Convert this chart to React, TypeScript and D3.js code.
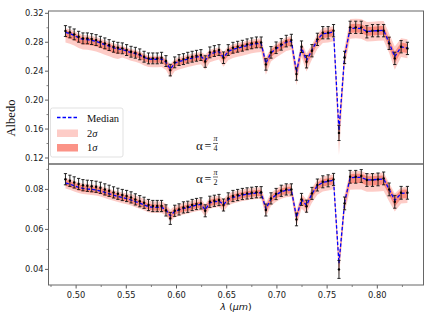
import React from 'react';
import * as d3 from 'd3';

// wavelength grid (um)
const wavelength = [
  0.4894, 0.4938, 0.4981, 0.5025, 0.5068, 0.5112, 0.5155, 0.5199, 0.5242, 0.5286,
  0.5329, 0.5373, 0.5416, 0.5460, 0.5503, 0.5547, 0.5590, 0.5634, 0.5677, 0.5721,
  0.5764, 0.5808, 0.5851, 0.5895, 0.5938, 0.5982, 0.6025, 0.6069, 0.6112, 0.6156,
  0.6199, 0.6243, 0.6286, 0.6332, 0.6377, 0.6423, 0.6468, 0.6515, 0.6562, 0.6609,
  0.6656, 0.6703, 0.6749, 0.6796, 0.6843, 0.6890, 0.6941, 0.6992, 0.7043, 0.7093,
  0.7144, 0.7195, 0.7245, 0.7295, 0.7349, 0.7403, 0.7457, 0.7510, 0.7564, 0.7618,
  0.7674, 0.7729, 0.7785, 0.7840, 0.7896, 0.7952, 0.8007, 0.8063, 0.8118, 0.8174,
  0.8237, 0.8300,
];

// alpha = pi/4 panel
const topObs = [
  0.2955, 0.2937, 0.2909, 0.2876, 0.2854, 0.2854, 0.2844, 0.2830, 0.2807, 0.2785,
  0.2761, 0.2738, 0.2724, 0.2716, 0.2692, 0.2669, 0.2655, 0.2633, 0.2600, 0.2577,
  0.2577, 0.2577, 0.2586, 0.2540, 0.2415, 0.2522, 0.2554, 0.2567, 0.2586, 0.2600,
  0.2613, 0.2623, 0.2533, 0.2660, 0.2678, 0.2692, 0.2586, 0.2692, 0.2724, 0.2738,
  0.2752, 0.2771, 0.2785, 0.2798, 0.2798, 0.2494, 0.2660, 0.2724, 0.2771, 0.2816,
  0.2830, 0.2360, 0.2738, 0.2530, 0.2683, 0.2840, 0.2932, 0.2932, 0.2960, 0.1547,
  0.2590, 0.3006, 0.3006, 0.3006, 0.2945, 0.2960, 0.2960, 0.2960, 0.2785, 0.2577,
  0.2738, 0.2715,
];
const topErr = [
  0.0075, 0.0075, 0.0075, 0.0075, 0.0075, 0.0075, 0.0075, 0.0075, 0.0075, 0.0075,
  0.0075, 0.0075, 0.0075, 0.0075, 0.0075, 0.0075, 0.0075, 0.0075, 0.0075, 0.0075,
  0.0075, 0.0075, 0.0075, 0.0075, 0.0080, 0.0075, 0.0075, 0.0075, 0.0075, 0.0075,
  0.0075, 0.0075, 0.0080, 0.0075, 0.0075, 0.0075, 0.0080, 0.0075, 0.0075, 0.0075,
  0.0075, 0.0075, 0.0075, 0.0075, 0.0075, 0.0080, 0.0080, 0.0080, 0.0080, 0.0080,
  0.0080, 0.0085, 0.0080, 0.0085, 0.0085, 0.0085, 0.0085, 0.0085, 0.0085, 0.0105,
  0.0085, 0.0085, 0.0085, 0.0085, 0.0085, 0.0085, 0.0085, 0.0085, 0.0085, 0.0085,
  0.0085, 0.0085,
];
const topMedian = [
  0.2935, 0.2920, 0.2895, 0.2862, 0.2840, 0.2836, 0.2826, 0.2812, 0.2790, 0.2768,
  0.2745, 0.2722, 0.2708, 0.2700, 0.2678, 0.2656, 0.2642, 0.2621, 0.2590, 0.2567,
  0.2565, 0.2565, 0.2568, 0.2525, 0.2430, 0.2510, 0.2535, 0.2550, 0.2568, 0.2582,
  0.2595, 0.2605, 0.2550, 0.2635, 0.2655, 0.2670, 0.2590, 0.2672, 0.2702, 0.2718,
  0.2735, 0.2752, 0.2768, 0.2780, 0.2785, 0.2510, 0.2655, 0.2710, 0.2755, 0.2800,
  0.2815, 0.2385, 0.2725, 0.2545, 0.2690, 0.2835, 0.2920, 0.2925, 0.2945, 0.1580,
  0.2610, 0.2990, 0.2995, 0.2990, 0.2950, 0.2955, 0.2960, 0.2965, 0.2790, 0.2600,
  0.2735, 0.2720,
];
// band extents below / above the median
const top2Lo = [
  0.014, 0.014, 0.014, 0.014, 0.014, 0.014, 0.014, 0.014, 0.014, 0.014,
  0.014, 0.014, 0.014, 0.011, 0.011, 0.011, 0.011, 0.011, 0.011, 0.011,
  0.011, 0.011, 0.011, 0.011, 0.012, 0.011, 0.011, 0.011, 0.011, 0.011,
  0.011, 0.011, 0.013, 0.011, 0.011, 0.011, 0.013, 0.012, 0.012, 0.012,
  0.012, 0.012, 0.012, 0.012, 0.012, 0.016, 0.012, 0.012, 0.012, 0.012,
  0.012, 0.018, 0.013, 0.015, 0.013, 0.013, 0.013, 0.013, 0.013, 0.034,
  0.016, 0.014, 0.014, 0.014, 0.014, 0.014, 0.014, 0.014, 0.014, 0.018,
  0.014, 0.014,
];
const top2Hi = [
  0.006, 0.006, 0.006, 0.006, 0.006, 0.006, 0.006, 0.006, 0.006, 0.006,
  0.006, 0.006, 0.006, 0.005, 0.005, 0.005, 0.005, 0.005, 0.005, 0.005,
  0.005, 0.005, 0.005, 0.005, 0.007, 0.006, 0.006, 0.006, 0.006, 0.006,
  0.006, 0.006, 0.008, 0.006, 0.006, 0.006, 0.008, 0.007, 0.007, 0.007,
  0.007, 0.007, 0.007, 0.007, 0.007, 0.008, 0.007, 0.007, 0.007, 0.007,
  0.007, 0.010, 0.008, 0.010, 0.008, 0.008, 0.008, 0.008, 0.008, 0.012,
  0.012, 0.013, 0.013, 0.013, 0.013, 0.013, 0.013, 0.013, 0.013, 0.014,
  0.012, 0.012,
];
const top1Lo = [
  0.007, 0.007, 0.007, 0.007, 0.007, 0.007, 0.007, 0.007, 0.007, 0.007,
  0.007, 0.007, 0.007, 0.005, 0.005, 0.005, 0.005, 0.005, 0.005, 0.005,
  0.005, 0.005, 0.005, 0.005, 0.006, 0.005, 0.005, 0.005, 0.005, 0.005,
  0.005, 0.005, 0.006, 0.005, 0.005, 0.005, 0.006, 0.006, 0.006, 0.006,
  0.006, 0.006, 0.006, 0.006, 0.006, 0.008, 0.006, 0.006, 0.006, 0.006,
  0.006, 0.009, 0.006, 0.007, 0.006, 0.006, 0.006, 0.006, 0.006, 0.016,
  0.008, 0.006, 0.006, 0.006, 0.006, 0.006, 0.006, 0.006, 0.006, 0.009,
  0.007, 0.007,
];
const top1Hi = [
  0.003, 0.003, 0.003, 0.003, 0.003, 0.003, 0.003, 0.003, 0.003, 0.003,
  0.003, 0.003, 0.003, 0.003, 0.003, 0.003, 0.003, 0.003, 0.003, 0.003,
  0.003, 0.003, 0.003, 0.003, 0.004, 0.003, 0.003, 0.003, 0.003, 0.003,
  0.003, 0.003, 0.004, 0.003, 0.003, 0.003, 0.004, 0.004, 0.004, 0.004,
  0.004, 0.004, 0.004, 0.004, 0.004, 0.004, 0.004, 0.004, 0.004, 0.004,
  0.004, 0.005, 0.004, 0.005, 0.004, 0.004, 0.004, 0.004, 0.004, 0.006,
  0.006, 0.006, 0.006, 0.006, 0.006, 0.006, 0.006, 0.006, 0.006, 0.007,
  0.006, 0.006,
];

// alpha = pi/2 panel
const botObs = [
  0.0851, 0.0843, 0.0835, 0.0827, 0.0821, 0.0818, 0.0816, 0.0813, 0.0808, 0.0800,
  0.0793, 0.0785, 0.0778, 0.0772, 0.0767, 0.0760, 0.0750, 0.0741, 0.0733, 0.0722,
  0.0717, 0.0717, 0.0717, 0.0695, 0.0655, 0.0693, 0.0700, 0.0710, 0.0713, 0.0722,
  0.0727, 0.0730, 0.0693, 0.0738, 0.0743, 0.0747, 0.0722, 0.0755, 0.0767, 0.0772,
  0.0777, 0.0780, 0.0783, 0.0786, 0.0786, 0.0697, 0.0755, 0.0777, 0.0793, 0.0800,
  0.0800, 0.0650, 0.0750, 0.0716, 0.0780, 0.0822, 0.0838, 0.0843, 0.0850, 0.0400,
  0.0730, 0.0863, 0.0863, 0.0867, 0.0847, 0.0847, 0.0850, 0.0855, 0.0800, 0.0738,
  0.0783, 0.0783,
];
const botErr = [
  0.0028, 0.0028, 0.0028, 0.0028, 0.0028, 0.0028, 0.0028, 0.0028, 0.0028, 0.0028,
  0.0028, 0.0028, 0.0028, 0.0028, 0.0028, 0.0028, 0.0028, 0.0028, 0.0028, 0.0028,
  0.0028, 0.0028, 0.0028, 0.0028, 0.0030, 0.0028, 0.0028, 0.0028, 0.0028, 0.0028,
  0.0028, 0.0028, 0.0030, 0.0028, 0.0028, 0.0028, 0.0030, 0.0028, 0.0028, 0.0028,
  0.0028, 0.0028, 0.0028, 0.0028, 0.0028, 0.0030, 0.0028, 0.0028, 0.0028, 0.0028,
  0.0028, 0.0032, 0.0030, 0.0030, 0.0030, 0.0030, 0.0030, 0.0030, 0.0030, 0.0045,
  0.0032, 0.0032, 0.0032, 0.0032, 0.0032, 0.0032, 0.0032, 0.0032, 0.0032, 0.0032,
  0.0032, 0.0032,
];
const botMedian = [
  0.0833, 0.0826, 0.0818, 0.0810, 0.0805, 0.0802, 0.0800, 0.0797, 0.0792, 0.0785,
  0.0778, 0.0771, 0.0765, 0.0759, 0.0754, 0.0747, 0.0739, 0.0731, 0.0723, 0.0714,
  0.0710, 0.0710, 0.0710, 0.0698, 0.0668, 0.0690, 0.0697, 0.0705, 0.0708, 0.0716,
  0.0721, 0.0725, 0.0698, 0.0733, 0.0738, 0.0742, 0.0724, 0.0750, 0.0760, 0.0766,
  0.0772, 0.0776, 0.0779, 0.0782, 0.0783, 0.0703, 0.0752, 0.0773, 0.0788, 0.0796,
  0.0798, 0.0660, 0.0750, 0.0720, 0.0778, 0.0818, 0.0835, 0.0840, 0.0846, 0.0430,
  0.0735, 0.0858, 0.0860, 0.0860, 0.0848, 0.0848, 0.0850, 0.0852, 0.0800, 0.0745,
  0.0780, 0.0782,
];
const bot2Lo = [
  0.0028, 0.0028, 0.0028, 0.0028, 0.0028, 0.0028, 0.0028, 0.0028, 0.0028, 0.0028,
  0.0028, 0.0028, 0.0028, 0.0028, 0.0028, 0.0028, 0.0028, 0.0028, 0.0028, 0.0028,
  0.0028, 0.0028, 0.0028, 0.0028, 0.0030, 0.0030, 0.0030, 0.0030, 0.0030, 0.0030,
  0.0030, 0.0030, 0.0035, 0.0030, 0.0030, 0.0030, 0.0035, 0.0030, 0.0030, 0.0030,
  0.0030, 0.0030, 0.0030, 0.0030, 0.0030, 0.0040, 0.0035, 0.0035, 0.0035, 0.0035,
  0.0035, 0.0045, 0.0045, 0.0040, 0.0045, 0.0045, 0.0045, 0.0045, 0.0045, 0.0070,
  0.0050, 0.0060, 0.0060, 0.0060, 0.0060, 0.0060, 0.0060, 0.0060, 0.0060, 0.0055,
  0.0050, 0.0050,
];
const bot2Hi = [
  0.0025, 0.0025, 0.0025, 0.0025, 0.0025, 0.0025, 0.0025, 0.0025, 0.0025, 0.0025,
  0.0025, 0.0025, 0.0025, 0.0025, 0.0025, 0.0030, 0.0030, 0.0030, 0.0030, 0.0030,
  0.0030, 0.0030, 0.0030, 0.0030, 0.0030, 0.0028, 0.0028, 0.0028, 0.0028, 0.0028,
  0.0028, 0.0028, 0.0028, 0.0028, 0.0028, 0.0028, 0.0028, 0.0028, 0.0028, 0.0028,
  0.0028, 0.0028, 0.0028, 0.0028, 0.0028, 0.0030, 0.0030, 0.0030, 0.0030, 0.0030,
  0.0030, 0.0035, 0.0030, 0.0030, 0.0030, 0.0030, 0.0030, 0.0030, 0.0030, 0.0040,
  0.0040, 0.0032, 0.0032, 0.0032, 0.0032, 0.0032, 0.0032, 0.0032, 0.0032, 0.0035,
  0.0030, 0.0030,
];
const bot1Lo = [
  0.0015, 0.0015, 0.0015, 0.0015, 0.0015, 0.0015, 0.0015, 0.0015, 0.0015, 0.0015,
  0.0015, 0.0015, 0.0015, 0.0015, 0.0015, 0.0015, 0.0015, 0.0015, 0.0015, 0.0015,
  0.0015, 0.0015, 0.0015, 0.0015, 0.0017, 0.0016, 0.0016, 0.0016, 0.0016, 0.0016,
  0.0016, 0.0016, 0.0016, 0.0016, 0.0016, 0.0016, 0.0016, 0.0016, 0.0016, 0.0016,
  0.0016, 0.0016, 0.0016, 0.0016, 0.0016, 0.0020, 0.0018, 0.0018, 0.0018, 0.0018,
  0.0018, 0.0022, 0.0020, 0.0020, 0.0020, 0.0020, 0.0020, 0.0020, 0.0020, 0.0035,
  0.0028, 0.0028, 0.0028, 0.0028, 0.0028, 0.0028, 0.0028, 0.0028, 0.0028, 0.0030,
  0.0025, 0.0025,
];
const bot1Hi = [
  0.0015, 0.0015, 0.0015, 0.0015, 0.0015, 0.0015, 0.0015, 0.0015, 0.0015, 0.0015,
  0.0015, 0.0015, 0.0015, 0.0015, 0.0015, 0.0015, 0.0015, 0.0015, 0.0015, 0.0015,
  0.0015, 0.0015, 0.0015, 0.0015, 0.0016, 0.0015, 0.0015, 0.0015, 0.0015, 0.0015,
  0.0015, 0.0015, 0.0015, 0.0015, 0.0015, 0.0015, 0.0015, 0.0015, 0.0015, 0.0015,
  0.0015, 0.0015, 0.0015, 0.0015, 0.0015, 0.0016, 0.0016, 0.0016, 0.0016, 0.0016,
  0.0016, 0.0018, 0.0016, 0.0016, 0.0016, 0.0016, 0.0016, 0.0016, 0.0016, 0.0020,
  0.0020, 0.0018, 0.0018, 0.0018, 0.0018, 0.0018, 0.0018, 0.0018, 0.0018, 0.0020,
  0.0018, 0.0018,
];

const xTicks = [0.5, 0.55, 0.6, 0.65, 0.7, 0.75, 0.8];
const xMinor = [0.475, 0.525, 0.575, 0.625, 0.675, 0.725, 0.775, 0.825];
const topTicks = [0.12, 0.16, 0.2, 0.24, 0.28, 0.32];
const topMinor = [0.14, 0.18, 0.22, 0.26, 0.3];
const botTicks = [0.04, 0.06, 0.08];
const botMinor = [0.05, 0.07, 0.09];

const W = 436;
const H = 327;
const left = 48.5;
const right = 423.5;
const SALMON = '#fa8072';
const tickFont = 'DejaVu Sans';
const serif = 'Liberation Serif, Times New Roman, serif';

const x = d3.scaleLinear().domain([0.4725, 0.846]).range([left, right]);
const fmt = d3.format('.2f');

type PanelProps = {
  obs: number[];
  err: number[];
  med: number[];
  s1Lo: number[];
  s1Hi: number[];
  s2Lo: number[];
  s2Hi: number[];
  domain: [number, number];
  top: number;
  bottom: number;
  ticks: number[];
  minor: number[];
  xAxis?: boolean;
};

const Panel = (p: PanelProps) => {
  const y = d3.scaleLinear().domain(p.domain).range([p.bottom, p.top]);

  const band = (lo: number[], hi: number[]) =>
    d3.area<number>()
      .x((_, i) => x(wavelength[i]))
      .y0((d, i) => y(d - lo[i]))
      .y1((d, i) => y(d + hi[i]))(p.med) || '';

  const medLine = d3.line<number>()
    .x((_, i) => x(wavelength[i]))
    .y(d => y(d))(p.med) || '';

  return (
    <g>
      <path d={band(p.s2Lo, p.s2Hi)} fill={SALMON} fillOpacity={0.4} />
      <path d={band(p.s1Lo, p.s1Hi)} fill={SALMON} fillOpacity={0.85} />
      <path d={medLine} fill="none" stroke="#0000ff" strokeWidth={1.3} strokeDasharray="3.5,2" />

      {/* error bars */}
      {p.obs.map((v, i) => {
        const cx = x(wavelength[i]);
        const yTop = y(v + p.err[i]);
        const yBot = y(v - p.err[i]);
        return (
          <g key={i} stroke="#111" strokeWidth={0.9}>
            <line x1={cx} x2={cx} y1={yTop} y2={yBot} />
            <line x1={cx - 1.6} x2={cx + 1.6} y1={yTop} y2={yTop} />
            <line x1={cx - 1.6} x2={cx + 1.6} y1={yBot} y2={yBot} />
            <circle cx={cx} cy={y(v)} r={1.2} fill="#000" stroke="none" />
          </g>
        );
      })}

      {/* y axis */}
      {p.ticks.map(t => (
        <g key={t}>
          <line x1={left - 3.5} x2={left} y1={y(t)} y2={y(t)} stroke="#333" strokeWidth={0.8} />
          <text x={left - 5} y={y(t)} dy="0.35em" textAnchor="end" fontFamily={tickFont} fontSize={8.3} fill="#222">
            {fmt(t)}
          </text>
        </g>
      ))}
      {p.minor.map(t => (
        <line key={t} x1={left - 2} x2={left} y1={y(t)} y2={y(t)} stroke="#333" strokeWidth={0.6} />
      ))}

      {p.xAxis && (
        <g>
          {xTicks.map(t => (
            <g key={t}>
              <line x1={x(t)} x2={x(t)} y1={p.bottom} y2={p.bottom + 3.5} stroke="#333" strokeWidth={0.8} />
              <text x={x(t)} y={p.bottom + 13} textAnchor="middle" fontFamily={tickFont} fontSize={8.3} fill="#222">
                {fmt(t)}
              </text>
            </g>
          ))}
          {xMinor.map(t => (
            <line key={t} x1={x(t)} x2={x(t)} y1={p.bottom} y2={p.bottom + 2} stroke="#333" strokeWidth={0.6} />
          ))}
        </g>
      )}

      <rect x={left} y={p.top} width={right - left} height={p.bottom - p.top} fill="none" stroke="#666" strokeWidth={1} />
    </g>
  );
};

const AlphaLabel = ({ xPos, base, den }: { xPos: number; base: number; den: string }) => (
  <g fontFamily={serif} fill="#111">
    <text x={xPos} y={base} fontSize={13}>α</text>
    <text x={xPos + 8.5} y={base} fontSize={12}>=</text>
    <text x={xPos + 19.5} y={base - 8.5} fontSize={8} textAnchor="middle" fontStyle="italic">π</text>
    <line x1={xPos + 17} x2={xPos + 22} y1={base - 6} y2={base - 6} stroke="#111" strokeWidth={0.6} />
    <text x={xPos + 19.5} y={base + 1.5} fontSize={8} textAnchor="middle">{den}</text>
  </g>
);

const App = () => {
  return (
    <svg width={W} height={H} style={{ position: 'absolute', left: 0, top: 0, background: '#fff' }}>
      <Panel
        obs={topObs} err={topErr} med={topMedian}
        s1Lo={top1Lo} s1Hi={top1Hi} s2Lo={top2Lo} s2Hi={top2Hi}
        domain={[0.1117, 0.3232]} top={11} bottom={164}
        ticks={topTicks} minor={topMinor}
      />
      <Panel
        obs={botObs} err={botErr} med={botMedian}
        s1Lo={bot1Lo} s1Hi={bot1Hi} s2Lo={bot2Lo} s2Hi={bot2Hi}
        domain={[0.0322, 0.0927]} top={164} bottom={285}
        ticks={botTicks} minor={botMinor} xAxis
      />

      <AlphaLabel xPos={196} base={149.5} den="4" />
      <AlphaLabel xPos={196} base={183} den="2" />

      {/* legend */}
      <g>
        <rect x={50.5} y={108} width={72.5} height={49} rx={2} fill="#fff" fillOpacity={0.85} stroke="#d9d9d9" strokeWidth={0.8} />
        <line x1={57} x2={78} y1={117.5} y2={117.5} stroke="#0000ff" strokeWidth={1.3} strokeDasharray="3.5,2" />
        <rect x={57} y={129.5} width={21} height={7.5} fill={SALMON} fillOpacity={0.4} />
        <rect x={57} y={144} width={21} height={7.5} fill={SALMON} fillOpacity={0.85} />
        <g fontFamily={serif} fontSize={10.5} fill="#111">
          <text x={87} y={121.5}>Median</text>
          <text x={87} y={136.5}>2<tspan fontStyle="italic">σ</tspan></text>
          <text x={87} y={151}>1<tspan fontStyle="italic">σ</tspan></text>
        </g>
      </g>

      <text
        transform="translate(10.5,118) rotate(-90)"
        textAnchor="middle" dominantBaseline="central"
        fontFamily={serif} fontSize={12.5} fill="#111"
      >
        Albedo
      </text>
      <text x={236} y={309.5} textAnchor="middle" fontFamily={tickFont} fontSize={9.5} fill="#111">
        <tspan fontStyle="italic">λ</tspan> (<tspan fontStyle="italic">μm</tspan>)
      </text>
    </svg>
  );
};

export default App;
